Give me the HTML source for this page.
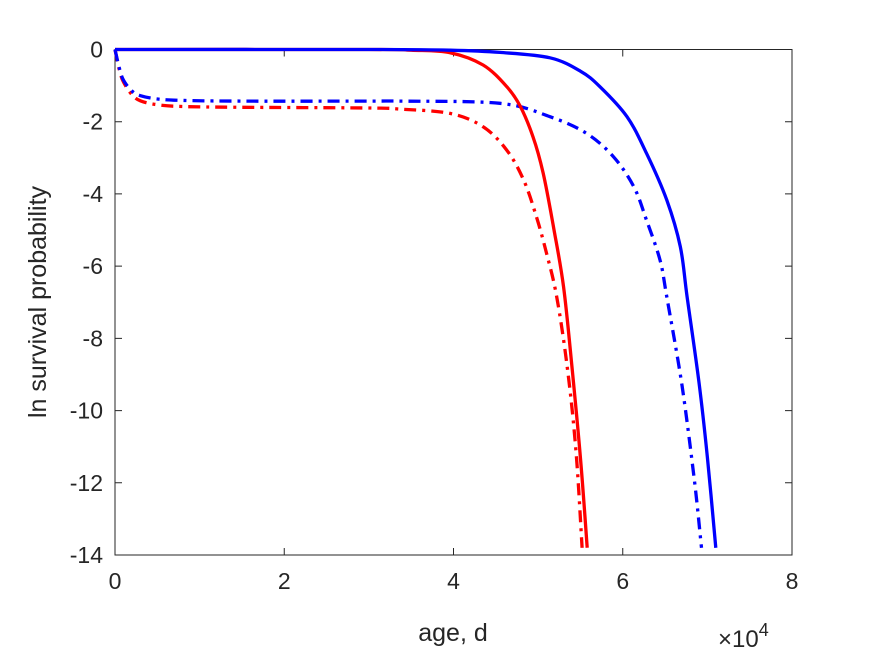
<!DOCTYPE html>
<html><head><meta charset="utf-8"><style>
body{margin:0;background:#fff;}
text{font-family:"Liberation Sans",Arial,sans-serif;fill:#262626;}
</style></head><body>
<svg id="chart" width="875" height="656" viewBox="0 0 875 656">
<rect width="875" height="656" fill="#fff"/>
<g id="axes"></g>
<g id="series"></g>
</svg>
<script>
const xTicks=[0,2,4,6,8];
const yTicks=[0,-2,-4,-6,-8,-10,-12,-14];
const blueSolidX=[0,3,3.96,4.55,5.14,5.5,5.73,6.05,6.28,6.52,6.68,6.76,6.9,7.0,7.1];
const blueSolidY=[0,0,-0.02,-0.08,-0.23,-0.6,-1.03,-1.86,-2.87,-4.17,-5.46,-6.85,-9.2,-11.3,-13.8];
const redSolidX=[0,3,3.5,3.96,4.35,4.63,4.79,4.94,5.06,5.18,5.3,5.4,5.5,5.58];
const redSolidY=[0,0,-0.02,-0.09,-0.43,-1.03,-1.58,-2.42,-3.43,-4.9,-6.56,-8.8,-11.3,-13.8];
const blueDashX=[0,0.05,0.1,0.2,0.3,0.5,0.8,1.5,3,3.37,4.55,5.14,5.57,5.89,6.13,6.28,6.44,6.52,6.7,6.85,6.93];
const blueDashY=[0,-0.5,-0.85,-1.15,-1.28,-1.37,-1.41,-1.43,-1.43,-1.43,-1.49,-1.86,-2.32,-2.97,-3.8,-4.72,-5.83,-6.85,-9.3,-12,-13.8];
const redDashX=[0,0.05,0.1,0.2,0.3,0.5,0.8,1.5,3,3.37,3.96,4.35,4.63,4.83,4.98,5.1,5.22,5.35,5.45,5.52];
const redDashY=[0,-0.55,-0.9,-1.25,-1.42,-1.53,-1.58,-1.6,-1.62,-1.65,-1.77,-2.14,-2.79,-3.62,-4.63,-5.65,-6.85,-8.9,-11.2,-13.8];

const L=115,R=792,T=49.5,B=555;
const sx=v=>L+(v-0)/(8-0)*(R-L);
const sy=v=>T+(0-v)/(0+14)*(B-T);
const NS="http://www.w3.org/2000/svg";
function mk(tag,attrs,parent){const e=document.createElementNS(NS,tag);for(const k in attrs)e.setAttribute(k,attrs[k]);parent.appendChild(e);return e;}
const ax=document.getElementById('axes'), sg=document.getElementById('series');

const box=mk('rect',{x:L,y:T,width:R-L,height:B-T,fill:'none',stroke:'#262626','stroke-width':1},ax);


xTicks.forEach(t=>{
  const x=sx(t);
  const tk=mk('path',{d:`M${x},${B}V${B-7}M${x},${T}V${T+7}`,stroke:'#262626','stroke-width':1},ax);
  
  
  const lb=mk('text',{x:x,y:B+34,'text-anchor':'middle','font-size':23},ax);lb.textContent=t;
  
  
});
yTicks.forEach(t=>{
  const y=sy(t);
  const tk=mk('path',{d:`M${L},${y}H${L+7}M${R},${y}H${R-7}`,stroke:'#262626','stroke-width':1},ax);
  
  
  const lb=mk('text',{x:L-12,y:y+8,'text-anchor':'end','font-size':23},ax);lb.textContent=t===0?'0':'-'+Math.abs(t);
  
  
});
const xt=mk('text',{x:453,y:641,'text-anchor':'middle','font-size':25},ax);xt.textContent='age, d';


const ex=mk('text',{x:718,y:647,'font-size':24},ax);ex.innerHTML='×10<tspan dy="-11" font-size="18">4</tspan>';


const yt=mk('text',{x:0,y:0,'text-anchor':'middle','font-size':25,transform:'translate(46,302) rotate(-90)'},ax);yt.textContent='ln survival probability';



function smoothPath(xs,ys){
  const P=xs.map((v,i)=>[sx(v),sy(ys[i])]);
  let d='M'+P[0][0].toFixed(1)+','+P[0][1].toFixed(1);
  for(let i=0;i<P.length-1;i++){
    const p0=P[Math.max(0,i-1)],p1=P[i],p2=P[i+1],p3=P[Math.min(P.length-1,i+2)];
    const c1=[p1[0]+(p2[0]-p0[0])/6,p1[1]+(p2[1]-p0[1])/6];
    const c2=[p2[0]-(p3[0]-p1[0])/6,p2[1]-(p3[1]-p1[1])/6];
    d+='C'+c1.map(v=>v.toFixed(1)).join(',')+' '+c2.map(v=>v.toFixed(1)).join(',')+' '+p2[0].toFixed(1)+','+p2[1].toFixed(1);
  }
  return d;
}
function line(xs,ys,color,dash,name){
  const p=mk('path',{d:smoothPath(xs,ys),fill:'none',stroke:color,'stroke-width':3.3,'stroke-linejoin':'round'},sg);
  if(dash)p.setAttribute('stroke-dasharray',dash);
  
  
}
line(redDashX,redDashY,'#ff0000','12,6,3,6','red-dashdot-line');
line(blueDashX,blueDashY,'#0000ff','12,6,3,6','blue-dashdot-line');
line(redSolidX,redSolidY,'#ff0000',null,'red-solid-line');
line(blueSolidX,blueSolidY,'#0000ff',null,'blue-solid-line');
</script>
</body></html>
